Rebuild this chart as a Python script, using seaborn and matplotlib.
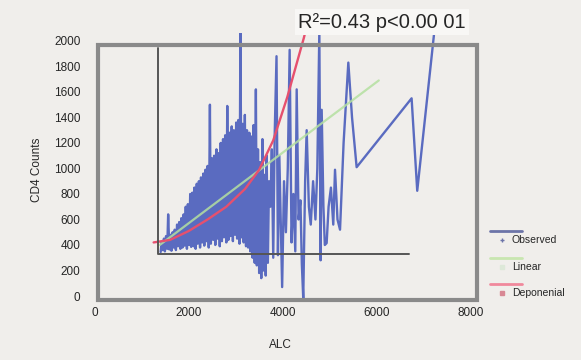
import numpy as np
import matplotlib
matplotlib.use('Agg')
import matplotlib.pyplot as plt
from matplotlib.patches import Rectangle
from matplotlib.lines import Line2D
import seaborn as sns

# observed series (ALC vs CD4), dense part then sparse tail
dense_alc = [1400, 1420, 1445, 1470, 1490, 1515, 1540, 1560, 1585, 1610,
             1630, 1655, 1680, 1700, 1725, 1750, 1770, 1795, 1820, 1840,
             1865, 1890, 1910, 1935, 1960, 1980, 2005, 2030, 2050, 2075,
             2100, 2120, 2145, 2170, 2190, 2215, 2240, 2260, 2285, 2310,
             2330, 2355, 2380, 2400, 2425, 2450, 2470, 2495, 2520, 2540,
             2565, 2590, 2610, 2635, 2660, 2680, 2705, 2730, 2750, 2775,
             2800, 2820, 2845, 2870, 2890, 2915, 2940, 2960, 2985, 3010,
             3030, 3055, 3080, 3100, 3125, 3150, 3170, 3195, 3220, 3240,
             3265, 3290, 3310, 3335, 3360, 3380, 3405, 3430, 3450, 3475,
             3500, 3520, 3545, 3570, 3590, 3615, 3640, 3660, 3685, 3710]
dense_cd4 = [345, 420, 360, 450, 350, 470, 370, 640, 365, 480,
             355, 500, 380, 520, 360, 560, 390, 580, 370, 610,
             380, 640, 395, 700, 370, 720, 400, 800, 385, 810,
             390, 850, 370, 880, 410, 900, 380, 930, 420, 960,
             395, 990, 430, 1020, 380, 1500, 410, 1080, 440, 1100,
             400, 1150, 450, 1120, 390, 1200, 430, 1230, 460, 1260,
             420, 1490, 440, 1280, 470, 1330, 430, 1300, 480, 1360,
             450, 1380, 410, 2080, 460, 1350, 420, 1420, 390, 1300,
             380, 1280, 350, 1250, 300, 1340, 260, 1620, 240, 1150,
             180, 1050, 140, 1230, 200, 950, 160, 1100, 260, 900]
tail_alc = [3740, 3770, 3800, 3830, 3870, 3900, 3930, 3960, 3990, 4030,
            4070, 4110, 4150, 4190, 4230, 4270, 4300, 4340, 4380, 4410,
            4440, 4480, 4513, 4560, 4600, 4650, 4700, 4740, 4783, 4810,
            4833, 4870, 4900, 4939, 4980, 5030, 5080, 5117, 5170, 5224,
            5300, 5401, 5480, 5578, 6750, 6870, 7300]
tail_cd4 = [700, 1150, 300, 1250, 1880, 320, 1100, 600, 70, 900,
            500, 1000, 1930, 420, 800, 350, 1620, 600, 750, 250,
            -20, 900, 1300, 700, 560, 900, 600, 1000, 2080, 280,
            1460, 700, 400, 415, 700, 850, 560, 990, 600, 520,
            1200, 1830, 1400, 1010, 1550, 825, 2300]

# fitted curves
linear_alc = [1380, 6050]
linear_cd4 = [400, 1690]
expo_alc = [1250, 1600, 2000, 2400, 2800, 3200, 3500, 3800, 4100, 4450, 4520]
expo_cd4 = [420, 440, 510, 600, 700, 840, 990, 1220, 1560, 2020, 2120]

# inner (stray) axis lines of the original figure
inner_x = [1350, 1350, 6700]
inner_y = [1945, 329, 329]

xticks = [0, 2000, 4000, 6000, 8000]
yticks = [0, 200, 400, 600, 800, 1000, 1200, 1400, 1600, 1800, 2000]

bg = '#f0eeeb'
sns.set_style('white')
plt.rcParams['font.family'] = ['Liberation Sans', 'DejaVu Sans']

W, H = 581, 360
fig = plt.figure(figsize=(W / 100, H / 100), dpi=100, facecolor=bg)
ax = fig.add_axes([0.1635, 0.1636, 0.662, 0.744], facecolor=bg)

obs_x = dense_alc + tail_alc
obs_y = dense_cd4 + tail_cd4
sns.lineplot(x=obs_x, y=obs_y, sort=False, estimator=None, color='#5a6bc0',
             lw=1.7, ax=ax, zorder=2)
sns.lineplot(x=linear_alc, y=linear_cd4, color='#b4e0a0', alpha=0.85, lw=1.6,
             ax=ax, zorder=3)
sns.lineplot(x=expo_alc, y=expo_cd4, color='#e6506e', lw=1.7, ax=ax, zorder=4)
ax.plot(inner_x, inner_y, color='#555555', lw=1.4, zorder=5)

ax.set_xlim(0, 8200)
ax.set_ylim(-40, 2060)
ax.add_patch(Rectangle((64, -31), 8081, 2000, fill=False, ec='#8a8a8a',
                       lw=3, clip_on=False, zorder=6))
for s in ax.spines.values():
    s.set_visible(False)

ax.set_xticks(xticks)
ax.set_yticks(yticks)
ax.tick_params(axis='x', length=0, pad=4, labelsize=8.5)
ax.tick_params(axis='y', length=0, pad=10.5, labelsize=8.5)
ax.set_xlabel('ALC', fontsize=8.5)
ax.set_ylabel('CD4 Counts', fontsize=8.5)
ax.xaxis.set_label_coords(0.481, -0.14)
ax.yaxis.set_label_coords(-0.135, 0.49)

fig.text(382 / W, 1 - 22 / H, 'R²=0.43 p<0.00 01', fontsize=14.5,
         ha='center', va='center',
         bbox=dict(boxstyle='square,pad=0.15', fc='#f8f7f5', ec='none'))

# legend: line on top, marker + label below
def px(x, y):
    return x / W, 1 - y / H

legend_items = [('Observed', '#6c74a8', '#6c74a8', '+', 231),
                ('Linear', '#c8e6b0', '#dde8d8', 's', 258),
                ('Deponenial', '#f0889c', '#d88894', 's', 284)]
for name, lc, mc, mk, ly in legend_items:
    x0, y0 = px(490, ly)
    x1, _ = px(522, ly)
    fig.add_artist(Line2D([x0, x1], [y0, y0], color=lc, lw=2,
                          transform=fig.transFigure))
    mx, my = px(502, ly + 9)
    fig.add_artist(Line2D([mx], [my], marker=mk, ms=3.5, color=mc, lw=0,
                          transform=fig.transFigure))
    tx, ty = px(512, ly + 9)
    fig.text(tx, ty, name, fontsize=7.5, ha='left', va='center')

fig.savefig('out.png', dpi=100, facecolor=bg)
